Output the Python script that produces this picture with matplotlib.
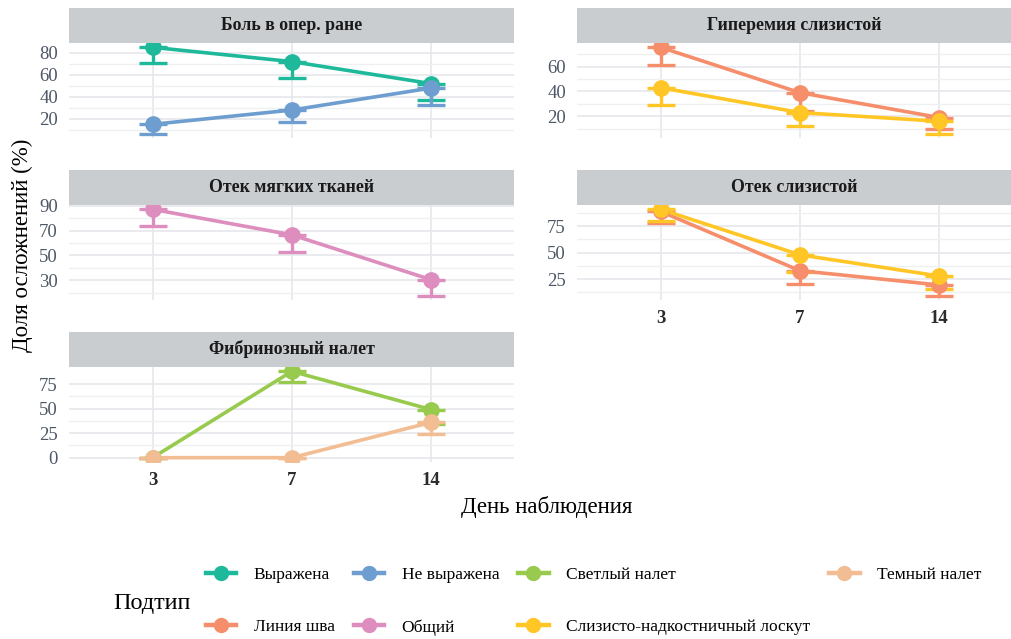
import matplotlib.pyplot as plt
from matplotlib.lines import Line2D
import numpy as np

plt.rcParams['font.family'] = ['Liberation Serif', 'DejaVu Serif']

days = ["3", "7", "14"]

# series colours
colors = {
    "Выражена": "#1DB99A",
    "Не выражена": "#6D9ECF",
    "Светлый налет": "#98CA4E",
    "Темный налет": "#F2BD92",
    "Линия шва": "#F68E6B",
    "Общий": "#DD8DBE",
    "Слизисто-надкостничный лоскут": "#FFC626",
}

# panel 1 - Боль в опер. ране
pain_strong = [85, 72, 52]
pain_strong_lo = [71, 57, 37]
pain_weak = [15, 28, 48]
pain_weak_lo = [6.5, 17, 33]

# panel 2 - Гиперемия слизистой
hyper_suture = [75.5, 39, 19]
hyper_suture_lo = [61, 24, 10]
hyper_flap = [43, 23, 16]
hyper_flap_lo = [29, 12, 6]

# panel 3 - Отек мягких тканей
soft_all = [87, 66.5, 30.5]
soft_all_lo = [74, 52.5, 17.7]

# panel 4 - Отек слизистой
muc_suture = [89, 33, 19.5]
muc_suture_lo = [78, 20, 9.4]
muc_flap = [91, 48, 28]
muc_flap_lo = [80, 32, 16]

# panel 5 - Фибринозный налет
fib_light = [0, 88, 49]
fib_light_lo = [0, 77, 34.5]
fib_dark = [0, 0, 36]
fib_dark_lo = [0, 0, 24]

panels = [
    ("Боль в опер. ране", [("Выражена", pain_strong, pain_strong_lo),
                           ("Не выражена", pain_weak, pain_weak_lo)],
     [20, 40, 60, 80], [10, 30, 50, 70]),
    ("Гиперемия слизистой", [("Линия шва", hyper_suture, hyper_suture_lo),
                             ("Слизисто-надкостничный лоскут", hyper_flap, hyper_flap_lo)],
     [20, 40, 60], [10, 30, 50, 70]),
    ("Отек мягких тканей", [("Общий", soft_all, soft_all_lo)],
     [30, 50, 70, 90], [20, 40, 60, 80]),
    ("Отек слизистой", [("Линия шва", muc_suture, muc_suture_lo),
                        ("Слизисто-надкостничный лоскут", muc_flap, muc_flap_lo)],
     [25, 50, 75], [12.5, 37.5, 62.5, 87.5]),
    ("Фибринозный налет", [("Светлый налет", fib_light, fib_light_lo),
                           ("Темный налет", fib_dark, fib_dark_lo)],
     [0, 25, 50, 75], [12.5, 37.5, 62.5]),
]

W, H = 1012, 639
fig = plt.figure(figsize=(W / 100, H / 100), dpi=100)


def box(x0, y0, x1, y1):
    # pixel box (top-origin) -> figure fraction rect
    return [x0 / W, 1 - y1 / H, (x1 - x0) / W, (y1 - y0) / H]


col_x = [(69, 514), (577, 1012)]
row_y = [8, 170, 332]
strip_h = 35
panel_h = 95
unit = 139.3  # px per category step

slots = [(0, 0), (1, 0), (0, 1), (1, 1), (0, 2)]
grid_major = "#E4E6EA"
grid_minor = "#EEF0F2"
tick_col = "#4D5766"

for (title, series, yt, ymt), (c, r) in zip(panels, slots):
    x0, x1 = col_x[c]
    top = row_y[r]
    sax = fig.add_axes(box(x0, top, x1, top + strip_h))
    sax.set_facecolor("#C9CDD0")
    sax.set_xticks([])
    sax.set_yticks([])
    for s in sax.spines.values():
        s.set_visible(False)
    sax.text(0.5, 0.5, title, ha="center", va="center", fontsize=12.8,
             fontweight="bold", color="#1A1A1A", transform=sax.transAxes)

    ax = fig.add_axes(box(x0, top + strip_h, x1, top + strip_h + panel_h))
    for s in ax.spines.values():
        s.set_visible(False)
    xs = np.arange(len(days))
    for name, vals, lo in series:
        col = colors[name]
        vals = np.array(vals, dtype=float)
        lo = np.array(lo, dtype=float)
        ax.errorbar(xs, vals, yerr=[vals - lo, np.zeros_like(vals)], fmt="none",
                    ecolor=col, elinewidth=2.4, capsize=10, capthick=2.4, zorder=2)
        ax.plot(xs, vals, color=col, lw=2.6, zorder=3, solid_capstyle="butt")
        ax.plot(xs, vals, "o", color=col, ms=11, zorder=4)

    allv = np.concatenate([np.r_[v, l] for _, v, l in series])
    lo_v, hi_v = allv.min(), allv.max()
    pad = 0.05 * (hi_v - lo_v)
    ax.set_ylim(lo_v - pad, hi_v + pad)
    ax.set_xlim(-0.6, -0.6 + (x1 - x0) / unit)
    ax.set_xticks(xs)
    ax.set_yticks(yt)
    ax.set_yticks(ymt, minor=True)
    ax.grid(True, which="major", color=grid_major, lw=1.1, zorder=0)
    ax.grid(True, which="minor", axis="y", color=grid_minor, lw=1.0, zorder=0)
    ax.set_axisbelow(True)
    ax.tick_params(axis="both", which="both", length=0)
    ax.tick_params(axis="y", labelsize=13.5, labelcolor=tick_col, pad=8)
    if (c, r) in [(1, 1), (0, 2)]:
        ax.set_xticklabels(days, fontsize=13.5, fontweight="bold", color="#2B2B2B")
        ax.tick_params(axis="x", pad=7)
    else:
        ax.set_xticklabels([])

fig.text(22 / W, 1 - 245 / H, "Доля осложнений (%)", rotation=90,
         ha="center", va="center", fontsize=16.5)
fig.text(547 / W, 1 - 507 / H, "День наблюдения", ha="center", va="center",
         fontsize=16.5)

legend_order = ["Выражена", "Линия шва", "Не выражена", "Общий",
                "Светлый налет", "Слизисто-надкостничный лоскут", "Темный налет"]
handles = [Line2D([], [], color=colors[n], lw=3.2, marker="o", ms=10) for n in legend_order]
fig.legend(handles, legend_order, ncol=4, loc="center left",
           bbox_to_anchor=(206 / W, 1 - 601 / H), frameon=False, fontsize=12.5,
           handlelength=1.75, handletextpad=1.0, columnspacing=1.1,
           labelspacing=2.1, borderpad=0, borderaxespad=0)
fig.text(152 / W, 1 - 603 / H, "Подтип", ha="center", va="center", fontsize=17.5)

fig.savefig("out.png", dpi=100)
